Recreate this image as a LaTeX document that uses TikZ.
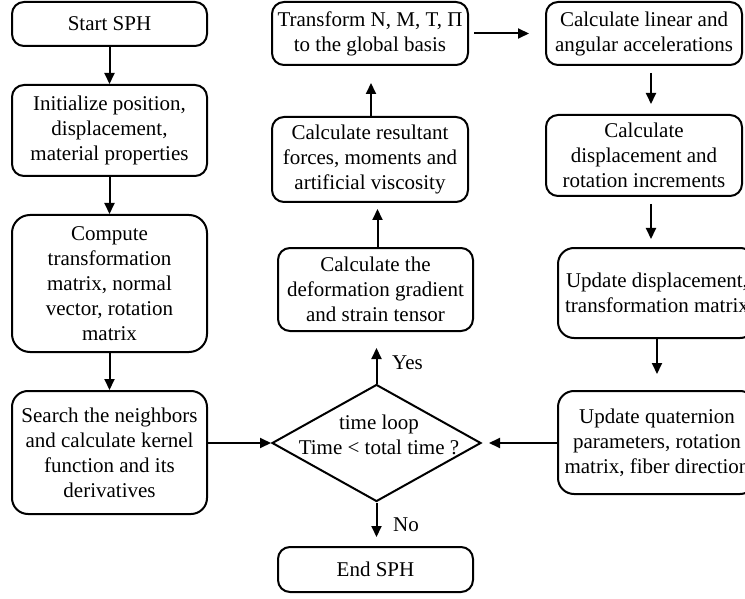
\documentclass[tikz,border=0pt]{standalone}
\usepackage{fontspec}
\setmainfont{Liberation Serif}
\usetikzlibrary{shapes.geometric,arrows.meta}
\begin{document}
\begin{tikzpicture}[x=1pt,y=-1pt,
  txt/.style={font=\fontsize{21}{25}\selectfont},
  box/.style={txt,draw,line width=2pt,rounded corners=12pt,align=center,inner sep=0pt},
  arr/.style={line width=2pt,-{Triangle[length=11pt,width=10pt]}}]
\useasboundingbox (0,0) rectangle (745,599);
\clip (0,0) rectangle (745,599);
% left column
\node[box,minimum width=195pt,minimum height=44pt] (start) at (109.5,24) {Start SPH};
\node[box,minimum width=195pt,minimum height=91pt] (init) at (109.5,130.5) {Initialize position,\\displacement,\\material properties};
\node[box,rounded corners=18pt,minimum width=195pt,minimum height=137pt] (comp) at (109.5,283.5) {Compute\\transformation\\matrix, normal\\vector, rotation\\matrix};
\node[box,rounded corners=16pt,minimum width=195pt,minimum height=123pt] (search) at (109.5,452.5) {Search the neighbors\\and calculate kernel\\function and its\\derivatives};
% middle column
\node[box,minimum width=196pt,minimum height=63pt] (trans) at (370,33.5) {Transform N, M, T, Π\\to the global basis};
\node[box,minimum width=196pt,minimum height=85pt] (result) at (370,159.5) {Calculate resultant\\forces, moments and\\artificial viscosity};
\node[box,minimum width=195pt,minimum height=83pt] (deform) at (375.5,289.5) {Calculate the\\deformation gradient\\and strain tensor};
\node[draw,diamond,line width=2pt,minimum width=209pt,minimum height=117pt,inner sep=0pt] (dia) at (376.5,443) {};
\node[txt,align=center,inner sep=0pt] (diatext) at (379,435) {time loop\\Time < total time ?};
\node[box,minimum width=195pt,minimum height=45pt] (end) at (375.5,569.5) {End SPH};
% right column
\node[box,minimum width=196pt,minimum height=63pt] (lin) at (644,33.5) {Calculate linear and\\angular accelerations};
\node[box,minimum width=196pt,minimum height=81pt] (disp) at (644,155.5) {Calculate\\displacement and\\rotation increments};
\node[box,rounded corners=16pt,minimum width=198pt,minimum height=90pt] (upd) at (657,293) {Update displacement,\\transformation matrix};
\node[box,rounded corners=16pt,minimum width=198pt,minimum height=103pt] (quat) at (657,442.5) {Update quaternion\\parameters, rotation\\matrix, fiber direction};
% labels
\node[txt,anchor=west,inner sep=0pt] (yes) at (392,363) {Yes};
\node[txt,anchor=west,inner sep=0pt] (no) at (393,525) {No};
% connectors
\draw[arr] (start) -- (init);
\draw[arr] (init) -- (comp);
\draw[arr] (comp) -- (search);
\draw[arr] (search.east |- dia.west) -- (dia.west);
\draw[arr,shorten >=16pt] (dia.north) -- (dia.north |- deform.south);
\draw[arr,shorten >=9pt] (dia.south) -- (dia.south |- end.north);
\draw[arr,shorten >=6pt] ([xshift=2pt]deform.north) -- ([xshift=2pt]deform.north |- result.south);
\draw[arr,shorten >=17pt] ([xshift=1pt]result.north) -- ([xshift=1pt]result.north |- trans.south);
\draw[arr,shorten <=5pt,shorten >=16pt] (trans.east) -- (lin.west);
\draw[arr,shorten <=7pt,shorten >=10pt] ([xshift=7pt]lin.south) -- ([xshift=7pt]lin.south |- disp.north);
\draw[arr,shorten <=7pt,shorten >=8pt] ([xshift=7pt]disp.south) -- ([xshift=7pt]disp.south |- upd.north);
\draw[arr,shorten >=16pt] (upd.south) -- (upd.south |- quat.north);
\draw[arr,shorten >=7pt] (quat.west |- dia.east) -- (dia.east);
\end{tikzpicture}
\end{document}
